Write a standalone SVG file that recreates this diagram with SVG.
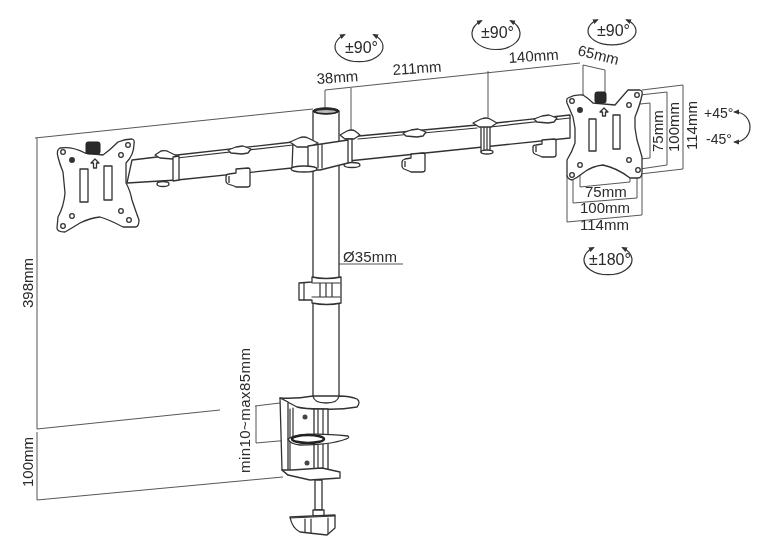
<svg xmlns="http://www.w3.org/2000/svg" width="764" height="553" viewBox="0 0 764 553">
<style>
svg>g{filter:url(#b)}
.l{fill:none;stroke:#333;stroke-width:1.2;stroke-linejoin:round;stroke-linecap:round}
.s{fill:#fff;stroke:#333;stroke-width:1.3;stroke-linejoin:round}
.d{fill:none;stroke:#444;stroke-width:.9}
.k{fill:#2b2b2b;stroke:#222;stroke-width:1}
.h{fill:#444}
text{font-family:"Liberation Sans",Arial,sans-serif;font-size:15px;fill:#2a2a2a}
.r{font-size:16px}
</style>
<defs>
<filter id="b" x="-5%" y="-5%" width="110%" height="110%"><feGaussianBlur stdDeviation="0.35"/></filter>
<marker id="a" viewBox="0 0 6 6" refX="4" refY="3" markerUnits="userSpaceOnUse" markerWidth="6" markerHeight="6" orient="auto-start-reverse"><path d="M0 0.500L6 3L0 5.500z" fill="#333"/></marker>
<path id="tab" class="s" d="M-11 -1l8 -3l7 -1l8 3l-3 4l-6 1l-11 -1z"/>
</defs>
<rect width="764" height="553" fill="#fff"/>
<g id="connectors">
<path class="d" d="M35 138L313 109M37 138V429M37 429L220 410M255 406L280 403M37 432V500M37 500L283 477M256 406V443M256 443L290 440"/>
<path class="d" d="M325 108V90L580 63M351 130V88M488 117V71M583 95V65L605 70V92"/>
<path class="d" d="M642 90L683 85V169L640 174M640 95L667 92V165L640 169M630 105L650 103V158L630 160"/>
<path class="d" d="M580 167V187L630 182V160M573 180V203L637 198V173M567 175V222L642 215V175"/>
<path class="d" d="M313 264H403"/>
</g>
<g id="pole">
<path class="s" d="M313 111V396H339V111z"/>
<ellipse class="k" cx="326" cy="111" rx="13" ry="3.200" fill="#444"/>
<ellipse cx="326" cy="111.500" rx="10" ry="1.500" fill="#bbb"/>
</g>
<g id="left-arm">
<path class="s" d="M132 160L157 157L177 155L293 142L292 168L177 180L127 183z"/>
<path class="l" d="M177 158L293 145"/>
<path class="s" d="M155 155l6 -4q5 -1 8 1l8 4l-4 3l-13 -1z"/>
<path class="s" d="M173 157l6 -1v24l-6 1z"/>
<ellipse class="s" cx="163" cy="184" rx="6" ry="2.500"/>
<use href="#tab" x="239" y="151"/>
<path class="s" d="M236 169l12 -1q2 0 2 2v15q0 2 -3 2h-11l-2 -1l-6 -2q-2 -1 -2 -3v-4q0 -3 3 -3l7 -1z M229 176v7"/>
</g>
<g id="right-arm">
<path class="s" d="M348 137L477 125L570 115V138L483 147L358 160L348 161z"/>
<path class="l" d="M358 139L477 128M490 127L570 118"/>
<path class="s" d="M481 125l9 -1v27l-9 1z"/>
<path class="l" d="M484 125v26M487 125v26" stroke-width="1.600"/>
<path class="s" d="M473 123l8 -4q6 -2 9 0l7 4l-6 4h-12z"/>
<ellipse class="s" cx="487" cy="152" rx="6" ry="2"/>
<use href="#tab" x="414" y="134"/>
<use href="#tab" x="545" y="120"/>
<path class="s" d="M411 154l12 -1q2 0 2 2v15q0 2 -3 2h-11l-2 -1l-5 -2q-2 -1 -2 -3v-4q0 -2 3 -3l6 -1z M405 161v6"/>
<path class="s" d="M542 140l12 -1q2 0 2 2v14q0 2 -3 2h-11l-2 -1l-5 -2q-2 -1 -2 -3v-4q0 -2 3 -2l6 -1z M536 146v6"/>
<path class="s" d="M340 135l7 -4q5 -2 8 0l5 4l-6 4h-9z"/>
<path class="s" d="M346 139h6v24h-6z"/>
<ellipse class="s" cx="352" cy="165" rx="8" ry="2.500"/>
</g>
<g id="pole-bracket">
<path class="s" d="M290 142l9 -4q5 -2 9 0l10 5l-8 4h-13z"/>
<path class="s" d="M308 146L348 140V163L320 170H308z"/>
<path class="l" d="M318 144V168M322 144V168"/>
<ellipse class="s" cx="304" cy="169" rx="13" ry="3"/>
</g>
<g id="left-plate">
<path class="s" d="M60 148Q72 146 85 153L103 155Q110 150 118 142Q125 139 132 139Q135 140 134 144Q134 155 126 163V183Q130 190 132 200Q136 212 139 220Q139 227 135 227H123Q110 220 100 217Q90 218 80 223Q72 228 65 232Q57 232 57 228L58 217Q64 206 65 193L63 172Q60 165 58 157Q56 150 60 148z"/>
<rect class="k" x="86" y="142" width="14" height="12" rx="2"/>
<rect class="s" x="80" y="169" width="8" height="33"/>
<rect class="s" x="104" y="166" width="8" height="34"/>
<path class="s" d="M95 159l-4 4h2.500v5h3v-5h2.500z"/>
<g class="s"><circle cx="63" cy="152" r="2.300"/><circle cx="128" cy="145" r="2.300"/><circle cx="72" cy="160" r="2.300" fill="#333"/><circle cx="121" cy="155" r="2.300"/><circle cx="72" cy="216" r="2.300"/><circle cx="121" cy="211" r="2.300"/><circle cx="63" cy="226" r="2.300"/><circle cx="129" cy="220" r="2.300"/></g>
</g>
<g id="right-plate">
<path class="s" d="M568 98Q575 94 583 95Q588 98 593 103L615 105Q621 98 628 90L640 90Q643 91 642 95Q640 105 635 117V128L637 140Q640 150 642 157V172Q642 178 638 178H630Q617 168 603 165Q592 166 583 173Q577 178 572 180Q567 179 567 175V160Q572 152 575 143V128L573 117Q570 110 567 103Q566 99 568 98z"/>
<rect class="k" x="595" y="92" width="11" height="11" rx="2"/>
<rect class="s" x="589" y="119" width="7" height="32"/>
<rect class="s" x="613" y="115" width="7" height="34"/>
<path class="s" d="M604 108l-4 4h2.500v4h3v-4h2.500z"/>
<g class="s"><circle cx="572" cy="101" r="2.300"/><circle cx="637" cy="95" r="2.300"/><circle cx="580" cy="110" r="2.300" fill="#333"/><circle cx="629" cy="105" r="2.300"/><circle cx="580" cy="165" r="2.300"/><circle cx="629" cy="160" r="2.300"/><circle cx="572" cy="175" r="2.300"/><circle cx="638" cy="170" r="2.300"/></g>
</g>
<g id="collar">
<path class="s" d="M299 283l13 -1v-5q14 3 29 0v26q-14 3 -29 0v-3l-13 0z"/>
<path class="l" d="M312 283H340M312 297H340M304 283v17M320 283v14M326 283v14M332 283v14"/>
</g>
<g id="clamp">
<path class="s" d="M280 398Q296 399 313 396Q314 403 326 403Q338 403 339 396Q350 396 357 399Q361 402 357 407Q340 410 320 409Q305 409 297 407z"/>
<path class="s" d="M280 398L288 402V475L282 470z"/>
<path class="l" d="M290 409V438M293 408V438M290 441V470"/>
<path class="s" d="M314 409H328V470H314z"/>
<path class="l" d="M318 409V470M323 409V470"/>
<circle class="h" cx="305" cy="417" r="2.500"/>
<circle class="h" cx="307" cy="463" r="2.500"/>
<path class="s" d="M288 439Q300 431 348 436Q350 438 346 439Q330 445 300 445Q290 444 288 439z"/>
<ellipse cx="308" cy="439" rx="16" ry="4" fill="none" stroke="#222" stroke-width="2.500"/>
<path class="s" d="M282 470L292 470L322 468L340 472V478L310 480L288 475z"/>
<path class="s" d="M315 480H322V510H315z"/>
<path class="s" d="M313 510H324V516H313z"/>
<path class="s" d="M290 517L335 515V528L327 535L300 532Q292 528 290 517z"/>
<path class="l" d="M290 518L335 516M305 519V532M311 519V533M328 518V534" stroke-width="1.500"/>
</g>
<g id="rotation-marks">
<path class="l" marker-start="url(#a)" marker-end="url(#a)" d="M344 35A24 15 0 1 0 374 35"/>
<path class="l" marker-start="url(#a)" marker-end="url(#a)" d="M481 21A24 16 0 1 0 511 21"/>
<path class="l" marker-start="url(#a)" marker-end="url(#a)" d="M597 20A24 14 0 1 0 627 20"/>
<path class="l" marker-start="url(#a)" marker-end="url(#a)" d="M593 248A24 15 0 1 0 623 248"/>
<path class="l" marker-start="url(#a)" marker-end="url(#a)" d="M735 112A15 15 0 0 1 735 142"/>
</g>
<g id="labels">
<text class="r" x="345" y="53">±90°</text>
<text class="r" x="481" y="38">±90°</text>
<text class="r" x="597" y="36">±90°</text>
<text class="r" x="589" y="265">±180°</text>
<text x="317" y="84" transform="rotate(-4 317 84)">38mm</text>
<text x="393" y="75" transform="rotate(-4 393 75)">211mm</text>
<text x="509" y="63" transform="rotate(-4 509 63)">140mm</text>
<text x="577" y="55" transform="rotate(14 577 55)">65mm</text>
<text x="663" y="152" transform="rotate(-90 663 152)">75mm</text>
<text x="679" y="152" transform="rotate(-90 679 152)">100mm</text>
<text x="697" y="150" transform="rotate(-90 697 150)">114mm</text>
<text x="585" y="197">75mm</text>
<text x="580" y="213">100mm</text>
<text x="580" y="230">114mm</text>
<text x="704" y="118" style="font-size:14px">+45°</text>
<text x="706" y="144" style="font-size:14px">-45°</text>
<text x="343" y="262" textLength="54">Ø35mm</text>
<text x="33" y="308" transform="rotate(-90 33 308)">398mm</text>
<text x="33" y="487" transform="rotate(-90 33 487)">100mm</text>
<text x="250" y="473" transform="rotate(-90 250 473)" textLength="125">min10~max85mm</text>
</g>
</svg>
